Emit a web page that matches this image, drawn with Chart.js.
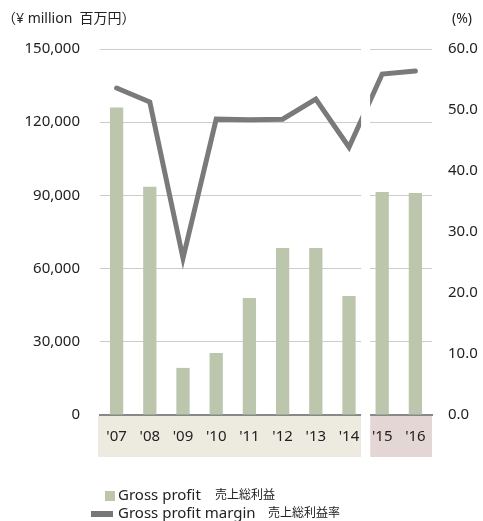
<!DOCTYPE html>
<html>
<head>
<meta charset="utf-8">
<script src="https://cdn.jsdelivr.net/npm/chart.js@4"></script>
<style>
  html, body { margin: 0; padding: 0; background: #fff; }
  #wrap { width: 483px; height: 521px; position: relative; }
</style>
</head>
<body>
<div id="wrap"><canvas id="myChart" width="483" height="521"></canvas></div>
<script>
var years = ["'07", "'08", "'09", "'10", "'11", "'12", "'13", "'14", "'15", "'16"];
var grossProfit = [126000, 93500, 19300, 25400, 48000, 68400, 68400, 48800, 91400, 91000];
var grossMargin = [53.6, 51.3, 25.7, 48.5, 48.4, 48.5, 51.8, 43.9, 55.9, 56.4];
var leftTicks = [0, 30000, 60000, 90000, 120000, 150000];
var rightTicks = [0, 10, 20, 30, 40, 50, 60];

var FONT = "'Noto Sans', 'Noto Sans CJK JP', sans-serif";
var breakIndex = 8; // gap drawn before '15

var extras = {
  id: 'extras',
  beforeDatasetsDraw: function(chart) {
    var ctx = chart.ctx, x = chart.scales.x, a = chart.chartArea;
    var step = x.getPixelForValue(1) - x.getPixelForValue(0);
    var gap = x.getPixelForValue(breakIndex) - step / 2;
    var left = x.getPixelForValue(0) - step / 2 - 2;
    var right = x.getPixelForValue(years.length - 1) + step / 2;
    ctx.save();
    ctx.fillStyle = '#edeae0';
    ctx.fillRect(left, a.bottom + 1, gap - 4.5 - left, 41);
    ctx.fillStyle = '#e5d6d6';
    ctx.fillRect(gap + 4.5, a.bottom + 1, right - gap - 4.5, 41);
    ctx.restore();
  },
  afterDatasetsDraw: function(chart) {
    var ctx = chart.ctx, x = chart.scales.x, a = chart.chartArea;
    var step = x.getPixelForValue(1) - x.getPixelForValue(0);
    var gap = x.getPixelForValue(breakIndex) - step / 2;
    ctx.save();
    ctx.fillStyle = '#ffffff';
    ctx.fillRect(gap - 4.5, 0, 9, a.bottom + 45);
    // x labels on top of the bands
    ctx.fillStyle = '#222';
    ctx.font = '15px ' + FONT;
    ctx.textAlign = 'center';
    ctx.textBaseline = 'middle';
    years.forEach(function(y, i) {
      ctx.fillText(y, x.getPixelForValue(i), a.bottom + 22);
    });
    // axis units
    ctx.font = '14px ' + FONT;
    ctx.textAlign = 'left';
    ctx.fillText('（¥ million  百万円）', 2, 19);
    ctx.fillText('(%)', 452, 19);
    // legend
    ctx.fillStyle = '#bcc6ad';
    ctx.fillRect(105, 491, 10, 10);
    ctx.fillStyle = '#777';
    ctx.fillRect(91, 511, 22, 6);
    ctx.fillStyle = '#222';
    ctx.font = '15px ' + FONT;
    ctx.fillText('Gross profit', 118, 496);
    ctx.fillText('Gross profit margin', 118, 514);
    ctx.font = '12px ' + FONT;
    ctx.fillText('売上総利益', 215, 496);
    ctx.fillText('売上総利益率', 268, 514);
    ctx.restore();
  }
};

var ctx = document.getElementById('myChart').getContext('2d');
var chart = new Chart(ctx, {
  type: 'bar',
  data: {
    labels: years,
    datasets: [{
      type: 'line',
      label: 'Gross profit margin',
      data: grossMargin,
      yAxisID: 'y2',
      borderColor: '#7a7a7a',
      borderWidth: 5,
      borderCapStyle: 'round',
      pointRadius: 0,
      tension: 0,
      order: 0
    }, {
      type: 'bar',
      label: 'Gross profit',
      data: grossProfit,
      yAxisID: 'y',
      backgroundColor: '#bcc6ad',
      barPercentage: 0.4,
      categoryPercentage: 1.0,
      order: 1
    }]
  },
  options: {
    responsive: false,
    animation: false,
    layout: { padding: { top: 49, bottom: 64, left: 0, right: 0 } },
    plugins: { legend: { display: false }, tooltip: { enabled: false } },
    scales: {
      x: {
        grid: { display: false },
        border: { display: true, color: '#888', width: 2 },
        ticks: { display: false },
        afterFit: function(s) { s.height = 42; }
      },
      y: {
        position: 'left',
        min: 0, max: 150000,
        afterBuildTicks: function(s) { s.ticks = leftTicks.map(function(v) { return { value: v }; }); },
        grid: { color: '#cccccc', drawTicks: false },
        border: { display: false },
        ticks: {
          color: '#222', padding: 20,
          font: { family: FONT, size: 15 },
          callback: function(v) { return v.toLocaleString('en-US'); }
        },
        afterFit: function(s) { s.width = 100; }
      },
      y2: {
        position: 'right',
        min: 0, max: 60,
        afterBuildTicks: function(s) { s.ticks = rightTicks.map(function(v) { return { value: v }; }); },
        grid: { display: false, drawTicks: false },
        border: { display: false },
        ticks: {
          color: '#222', padding: 16,
          font: { family: FONT, size: 15 },
          callback: function(v) { return v.toFixed(1); }
        },
        afterFit: function(s) { s.width = 51; }
      }
    }
  },
  plugins: [extras]
});
</script>
</body>
</html>
